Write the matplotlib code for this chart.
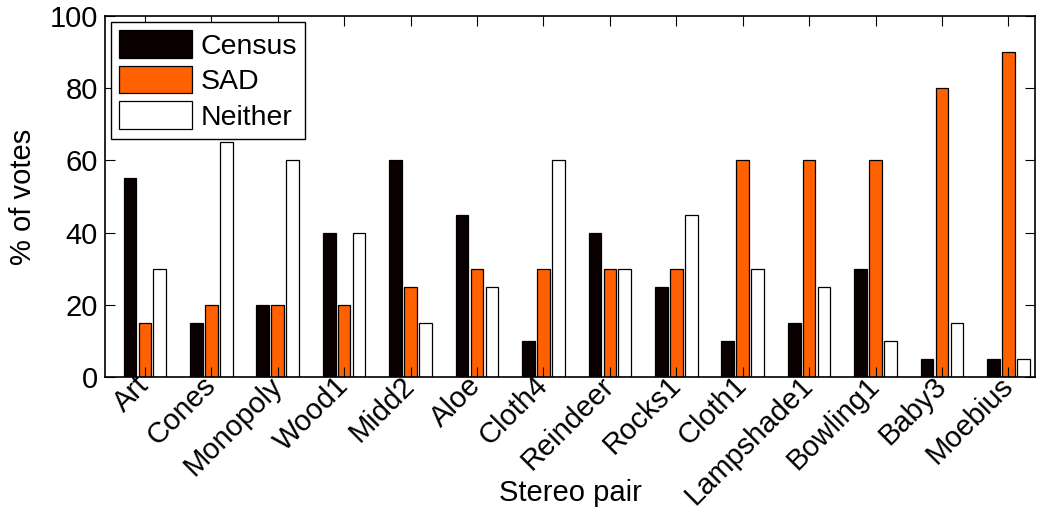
import numpy as np
import matplotlib
matplotlib.use("Agg")
import matplotlib.pyplot as plt

plt.rcParams["font.family"] = ["Liberation Sans", "DejaVu Sans"]

pairs = ["Art", "Cones", "Monopoly", "Wood1", "Midd2", "Aloe", "Cloth4",
         "Reindeer", "Rocks1", "Cloth1", "Lampshade1", "Bowling1", "Baby3",
         "Moebius"]
census = [55, 15, 20, 40, 60, 45, 10, 40, 25, 10, 15, 30, 5, 5]
sad = [15, 20, 20, 20, 25, 30, 30, 30, 30, 60, 60, 60, 80, 90]
neither = [30, 65, 60, 40, 15, 25, 60, 30, 45, 30, 25, 10, 15, 5]

series = [
    ("Census", census, "#0a0000"),
    ("SAD", sad, "#ff6000"),
    ("Neither", neither, "white"),
]

fig = plt.figure(figsize=(10.43, 5.08), dpi=100)
ax = fig.add_axes([105 / 1043, 1 - 377 / 508, 930 / 1043, 361 / 508])

x = np.arange(1, len(pairs) + 1)
step = 0.225
width = 0.19
for i, (label, vals, color) in enumerate(series):
    ax.bar(x + (i - 1) * step, vals, width, color=color, edgecolor="black",
           linewidth=0.9, label=label)

ax.set_xlim(0.4, 14.4)
ax.set_ylim(0, 100)
ax.set_xticks(x)
ax.set_yticks(range(0, 101, 20))
ax.tick_params(direction="in", top=True, right=True, length=7, width=0.8)
ax.tick_params(axis="x", pad=3, labelsize=21)
ax.tick_params(axis="y", pad=5, labelsize=21)
ax.set_xticklabels(pairs, rotation=45, ha="right", va="center",
                   rotation_mode="anchor")
for s in ax.spines.values():
    s.set_linewidth(1.2)

ax.set_ylabel("% of votes", fontsize=21)
ax.yaxis.set_label_coords(-0.073, 0.5)
ax.set_xlabel("Stereo pair", fontsize=21)
ax.xaxis.set_label_coords(0.5, -0.32)
ax.xaxis.label.set_va("center")

leg = ax.legend(loc="upper left", fontsize=20.5, fancybox=False,
                edgecolor="black", framealpha=1, handlelength=2.55,
                handleheight=1.1, borderaxespad=0.2, labelspacing=0.22,
                handletextpad=0.3, borderpad=0.3)
leg.get_frame().set_linewidth(1.0)

fig.savefig("out.png", dpi=100)
